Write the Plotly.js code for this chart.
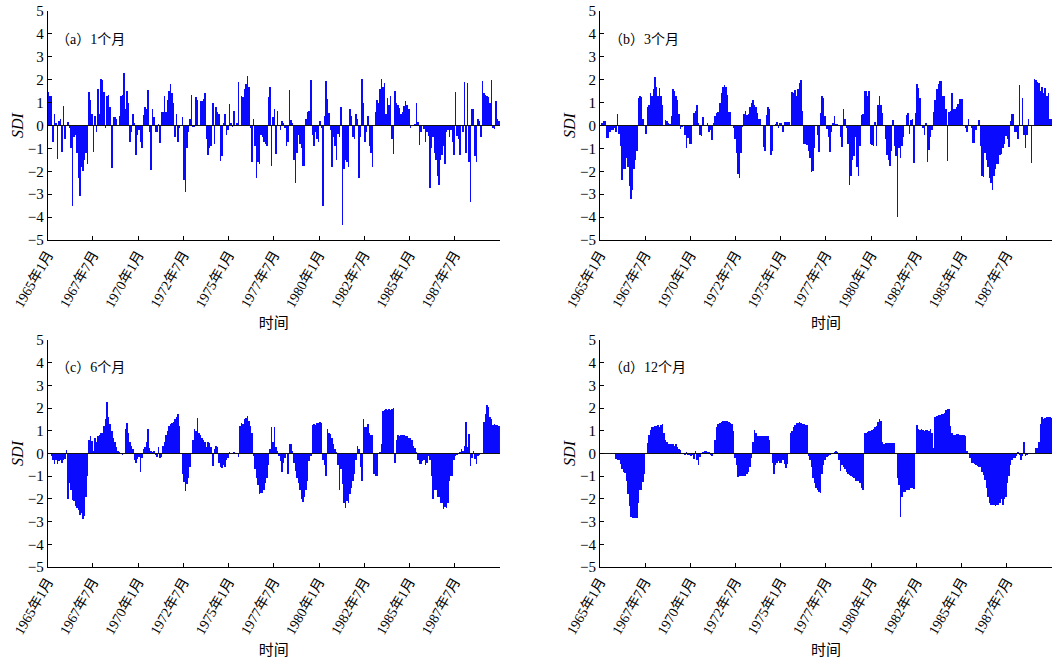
<!DOCTYPE html>
<html>
<head>
<meta charset="utf-8">
<script src="https://cdn.plot.ly/plotly-3.0.1.min.js"></script>
<style>html,body{margin:0;padding:0;background:#fff}#chart{width:1057px;height:664px}</style>
</head>
<body>
<div id="chart"></div>
<script>
// Monthly SDI, 1965-01 .. 1989-12 (one row = one year)
const tickLabels = ['1965年1月','1967年7月','1970年1月','1972年7月','1975年1月','1977年7月','1980年1月','1982年7月','1985年1月','1987年7月'];
const panelTitles = ['（a）1个月','（b）3个月','（c）6个月','（d）12个月'];
const axisTitleX = '时间';
const axisTitleY = 'SDI';

const sdi1 = [
 1.45, 1.3, 1.3, -0.7, 0.5, 0.1, -1.45, 0.2, 0.3, -1.15, 0.85, -0.6,
 0.0, 0.15, -0.1, -1.0, -3.5, -0.5, -0.4, -1.2, -2.3, -3.1, -1.8, -2.0,
 -1.5, -1.2, -1.7, 1.45, 1.1, 0.5, -1.15, 0.4, -0.3, 1.6, 0.5, 2.05,
 2.0, 1.45, -0.1, 1.3, 1.35, 0.8, -1.85, 0.35, 0.35, 0.3, 0.0, 0.4,
 1.3, 1.35, 2.3, 0.7, 1.5, 1.0, -0.7, -0.3, 0.5, 0.1, -1.3, -0.4,
 -0.2, -0.7, -1.0, 0.45, 0.8, 0.7, 1.55, -0.3, -1.95, 0.7, 0.35, -0.3,
 -0.3, 0.05, -0.75, 0.6, 0.6, 1.3, 0.6, 1.1, 1.5, 1.8, 1.4, 1.0,
 -0.5, 0.5, -0.7, -0.1, 0.0, 0.35, -2.4, -2.9, -1.0, -0.3, 0.3, 1.35,
 -0.05, -0.05, 1.25, 1.1, 0.0, 1.05, 1.05, 1.15, 1.4, -0.6, -1.3, -1.0,
 -0.9, 1.0, -0.8, 0.8, 0.6, 0.5, -1.55, -1.35, 0.1, 0.5, -0.4, -0.2,
 0.95, 0.1, -0.05, 0.65, 0.0, 0.1, 1.9, 0.0, 1.3, 1.25, 1.6, 1.8,
 2.15, 1.7, -0.1, -1.6, 0.3, -0.9, -2.3, -1.6, -1.7, -0.4, -0.5, -0.7,
 -0.8, -0.9, 1.25, 1.7, -1.75, 0.35, 0.7, -1.25, 0.65, 0.0, -0.2, 0.2,
 0.1, -0.1, -0.9, -0.7, 1.55, 0.25, 0.1, -1.5, -2.5, -1.2, -0.4, -0.8,
 -1.0, -1.75, -1.75, 0.3, 0.6, 0.65, 2.0, -0.4, -0.9, -0.3, -0.6, -0.7,
 0.2, -0.1, -3.5, 0.4, 1.95, 1.15, 0.55, -0.2, -1.8, -0.5, -0.9, -1.5,
 -0.35, -0.5, 0.8, -4.35, -1.9, -1.5, -1.6, -1.8, 0.7, 0.4, -0.5, -0.6,
 0.5, 0.3, -2.3, -0.5, 2.05, 1.0, -0.7, -0.3, 0.4, -0.9, -1.2, -1.8,
 0.0, 0.6, 1.1, 1.0, 1.6, 2.05, 1.7, 1.85, 0.5, 1.2, 0.9, 1.3,
 -0.6, -1.25, 1.5, 1.0, 0.9, 0.75, 0.5, 0.6, 0.85, 1.05, 0.9, 0.7,
 -0.1, 0.0, 0.0, 0.05, 1.0, 0.15, -0.85, -0.3, 0.0, -0.15, -0.7, -0.3,
 -0.45, -2.75, -1.0, -0.5, -1.2, -1.5, -2.2, -2.6, -1.5, -1.3, -0.9, -1.7,
 -0.3, -0.2, -0.5, -0.2, -0.7, -1.3, 1.45, -0.45, -0.6, -1.3, 0.0, -0.3,
 1.9, -1.2, 1.85, -1.6, -3.35, 0.7, 0.7, -1.35, -1.6, 0.3, 0.2, -0.5,
 1.95, 1.4, 1.35, 1.3, 1.25, 1.0, 2.0, -0.1, -0.15, 1.05, 0.3, 0.2
];

const sdi3 = [
 0.0, 0.1, 0.2, 0.2, -0.55, -0.55, -0.3, -0.2, -0.2, -0.1, -0.3, 0.5,
 -0.35, -0.9, -2.4, -1.9, -1.9, -1.4, -1.8, -2.65, -3.2, -2.8, -1.9, -1.5,
 -1.1, 1.2, 1.3, 1.25, 0.3, 0.0, -0.35, 0.8, 0.9, 1.4, 1.3, 1.6,
 2.1, 1.7, 1.3, 1.65, 1.3, 0.9, 0.0, 0.25, 0.2, 0.1, 0.05, 0.4,
 1.6, 1.5, 1.3, 1.1, 0.5, -0.15, -0.05, 0.0, -0.4, -1.0, -0.55, -0.8,
 -0.8, 0.0, 0.55, 0.65, 0.9, 0.1, -0.4, -0.45, 0.35, 0.0, 0.0, 0.1,
 -0.3, -0.2, -0.65, 0.1, 0.4, 0.55, 0.6, 1.0, 1.4, 1.7, 1.75, 1.7,
 1.35, 0.6, 0.6, 0.0, -0.1, -0.6, -1.2, -2.1, -2.3, -1.2, -0.05, 0.5,
 0.65, 0.45, 0.5, 0.8, 1.0, 1.1, 0.9, 0.8, 0.55, 0.3, 0.3, 0.0,
 -0.95, -1.1, 0.45, 0.8, 0.7, -1.3, -1.1, 0.0, 0.05, 0.15, -0.1, 0.1,
 0.1, -0.3, 0.15, 0.15, 0.15, 0.15, 0.0, 1.45, 1.4, 1.55, 1.3, 1.6,
 1.85, 2.0, 0.65, -0.8, -0.8, -0.85, -1.1, -1.4, -2.05, -2.0, -1.0, 0.0,
 -0.4, -1.15, 0.55, 1.3, 1.2, 0.4, -0.15, -0.5, -1.15, -0.3, 0.1, 0.4,
 0.05, 0.05, 0.0, -0.5, -0.95, 0.7, 0.3, -0.1, -0.8, -2.6, -2.2, -1.5,
 -1.35, -0.5, -1.8, -2.2, -0.9, 0.45, 0.5, 1.5, 1.5, 1.3, 1.5, -0.8,
 -0.85, -0.9, 0.15, -0.9, 0.9, 1.3, 0.9, 0.55, 0.0, -0.6, -1.3, -1.5,
 -1.75, -1.1, 0.25, -0.9, -1.35, -4.0, -1.0, -1.4, -0.9, -0.5, 0.0, 0.45,
 0.55, -0.35, 0.25, 0.3, -1.65, 0.55, 1.8, 1.65, 1.2, 0.0, -0.1, -0.4,
 0.1, -1.6, -1.05, -0.5, -0.2, 0.6, 1.1, 1.6, 1.8, 1.95, 1.95, 1.3,
 1.3, 0.7, -1.55, 0.6, 0.65, 1.4, 0.7, 0.7, 0.8, 0.95, 1.15, 1.15,
 1.15, 0.0, -0.1, -0.3, 0.3, 0.0, -0.1, -0.75, -0.75, -0.2, 0.0, 0.25,
 -0.9, -2.2, -2.25, -1.2, -1.5, -1.8, -2.3, -2.5, -2.8, -2.2, -1.9, -1.7,
 -1.7, -1.3, -1.25, -1.0, -0.8, -0.45, -0.6, -0.95, 0.2, 0.5, 0.5, -0.3,
 -0.3, -0.6, 1.75, 0.0, 1.2, -0.4, -1.0, -0.4, 0.3, 0.0, -1.65, 0.0,
 2.05, 2.0, 1.9, 1.85, 1.5, 1.7, 1.4, 1.65, 1.3, 1.4, 0.3, 0.3
];

const sdi6 = [
 0.0, 0.0, -0.1, -0.3, -0.45, -0.3, -0.45, -0.35, -0.3, -0.4, -0.3, -0.25,
 0.15, -2.0, -1.3, -1.6, -2.05, -2.1, -2.3, -2.4, -2.5, -2.7, -2.6, -2.9,
 -2.75, -1.9, -1.0, 0.6, 0.75, 0.55, 0.1, 0.7, 0.5, 0.75, 0.8, 0.9,
 0.9, 1.2, 1.5, 2.25, 1.6, 1.3, 1.0, 0.7, 0.5, 0.3, 0.1, 0.05,
 0.0, -0.05, 0.0, 1.1, 1.35, 0.9, 0.5, 0.35, 0.2, -0.3, -0.4, -0.25,
 -0.15, -0.8, -0.2, 0.2, 0.3, 0.5, 1.1, 0.25, 0.1, 0.05, 0.1, -0.05,
 -0.15, 0.3, -0.2, -0.15, 0.35, 0.5, 0.8, 1.0, 1.2, 1.3, 1.35, 1.4,
 1.5, 1.6, 1.75, 1.2, 0.0, -0.9, -1.25, -1.65, -1.35, -1.1, -0.6, 0.0,
 0.6, 1.1, 1.0, 1.55, 0.9, 0.8, 0.7, 0.6, 0.5, 0.3, 0.5, 0.45,
 0.3, -0.55, 0.2, 0.35, 0.3, -0.4, -0.6, -0.65, -0.5, -0.6, -0.3, -0.2,
 0.05, 0.0, 0.0, 0.05, 0.0, 0.0, -0.15, 1.2, 1.35, 1.3, 1.5, 1.55,
 1.65, 1.45, 1.2, 0.9, -0.1, -0.7, -1.1, -1.4, -1.8, -1.75, -1.75, -1.6,
 -1.3, -1.1, -0.5, 0.2, 1.15, 0.5, 1.15, 0.3, 0.1, -0.1, -0.35, -0.8,
 -0.4, -0.2, 0.0, -0.9, 0.4, 0.4, 0.1, -0.4, -0.75, -1.1, -1.3, -1.6,
 -2.0, -2.15, -1.9, -1.6, -1.2, -0.35, -0.1, 1.25, 1.3, 1.25, 1.35, 1.35,
 1.4, 1.35, -0.3, -0.5, -1.0, 1.1, 0.9, 0.85, 0.7, 0.4, 0.2, 0.05,
 -0.5, -1.6, -0.7, -1.35, -2.2, -2.4, -2.1, -2.2, -1.8, -1.5, -1.2, -0.9,
 -0.3, 0.35, 0.2, -0.6, -1.2, 1.5, 1.15, 1.15, 1.3, 0.9, 0.8, 0.8,
 -0.9, -1.0, -1.0, 0.0, 0.05, 0.4, 1.85, 1.9, 1.95, 1.9, 1.95, 1.9,
 1.95, 2.0, -0.4, 0.6, 0.8, 0.75, 0.8, 0.8, 0.8, 0.75, 0.75, 0.7,
 0.7, 0.6, 0.35, 0.25, 0.05, -0.3, -0.45, -0.45, -0.35, -0.3, -0.5, -0.4,
 -0.1, -0.3, -1.0, -2.0, -1.6, -1.6, -1.9, -1.9, -2.2, -2.2, -2.45, -2.35,
 -2.4, -2.2, -1.2, -1.0, -1.0, -0.3, -0.1, -0.05, 0.0, 0.05, 0.2, 0.1,
 0.35, 1.4, 0.3, 0.85, -0.55, -0.2, 0.1, -0.25, -0.45, -0.1, -0.05, 0.0,
 0.0, 1.4, 1.75, 2.15, 2.05, 1.6, 1.5, 1.25, 1.3, 1.25, 1.25, 1.2
];

const sdi12 = [
 0.0, 0.0, 0.0, 0.0, 0.0, 0.0, 0.0, 0.0, 0.0, 0.0, -0.25, -0.3,
 -0.3, -0.45, -0.7, -0.8, -0.85, -1.2, -1.8, -2.3, -2.8, -2.85, -2.85, -2.85,
 -2.85, -2.2, -1.6, -1.6, -1.25, -0.9, 0.0, 0.45, 0.8, 1.05, 1.15, 1.15,
 1.2, 1.2, 1.25, 1.15, 1.25, 1.3, 0.9, 0.6, 0.5, 0.4, 0.4, 0.4,
 0.4, 0.35, 0.4, 0.3, 0.2, 0.15, 0.0, 0.0, -0.05, 0.05, -0.05, -0.05,
 -0.1, -0.05, -0.25, 0.1, -0.3, -0.5, -0.15, 0.0, 0.05, 0.1, 0.1, 0.05,
 0.05, -0.05, -0.1, 0.0, 0.6, 1.15, 1.3, 1.35, 1.4, 1.45, 1.45, 1.45,
 1.45, 1.4, 1.35, 1.3, 1.0, -0.2, -0.5, -1.05, -1.0, -1.0, -1.0, -1.0,
 -1.0, -0.9, -0.8, -0.6, -0.2, 0.5, 1.05, 0.9, 0.75, 0.75, 0.75, 0.75,
 0.75, 0.75, 0.75, 0.75, 0.6, 0.0, -0.4, -0.9, -0.5, -0.4, -0.35, -0.4,
 -0.4, -0.3, -0.45, -0.65, -0.45, 0.0, 0.9, 1.0, 1.15, 1.25, 1.35, 1.35,
 1.4, 1.35, 1.3, 1.3, 1.25, 1.25, -0.1, -0.3, -0.6, -1.1, -1.3, -1.5,
 -1.6, -1.7, -1.75, -0.9, -0.5, -0.3, -0.15, -0.1, -0.05, 0.0, 0.0, 0.05,
 0.1, 0.05, -0.3, -0.75, -0.5, -0.6, -0.7, -0.8, -0.9, -0.95, -1.0, -1.05,
 -1.1, -1.2, -1.2, -1.2, -1.3, -1.5, -1.6, 0.9, 0.9, 0.95, 1.0, 1.0,
 1.05, 1.1, 1.15, 1.2, 1.4, 1.5, 1.45, 0.5, 0.4, 0.45, 0.45, 0.45,
 0.45, 0.45, 0.45, 0.45, 0.0, -1.1, -1.4, -2.8, -1.9, -1.7, -1.7, -1.6,
 -1.6, -1.6, -1.5, -1.5, -1.55, 0.0, 1.25, 1.1, 1.05, 1.1, 1.05, 1.0,
 1.05, 1.05, 1.0, 1.1, 0.9, 0.25, 1.6, 1.65, 1.7, 1.7, 1.75, 1.75,
 1.8, 1.9, 1.95, 1.95, 1.2, 0.9, 0.8, 0.8, 0.85, 0.85, 0.8, 0.8,
 0.8, 0.8, 0.75, 0.1, 0.0, -0.2, -0.4, -0.4, -0.45, -0.5, -0.55, -0.6,
 -0.6, -0.8, -0.95, -1.15, -1.5, -1.9, -2.2, -2.25, -2.25, -2.25, -2.3, -2.25,
 -2.25, -2.2, -2.0, -2.25, -2.0, -1.9, -1.3, -1.0, -0.5, -0.3, -0.2, -0.2,
 -0.1, 0.05, -0.05, -0.3, -0.1, 0.5, -0.1, -0.05, 0.0, 0.0, 0.0, 0.0,
 0.0, 0.25, 0.25, 0.5, 1.3, 1.6, 1.5, 1.55, 1.6, 1.6, 1.6, 1.55
];

const series = [sdi1, sdi3, sdi6, sdi12];
const TICK_STEP = 30; // months between labelled ticks
const nMonths = sdi1.length;

const serif = '"Liberation Serif", "Times New Roman", "Noto Sans CJK SC", serif';
const cjk = '"Liberation Serif", "Noto Sans CJK SC", sans-serif';

const tickvals = tickLabels.map((_, k) => k * TICK_STEP).concat([nMonths]);
const ticktext = tickLabels.concat(['']);

const xDomains = [[0.0451, 0.4730], [0.5676, 0.9953], [0.0451, 0.4730], [0.5676, 0.9953]];
const yDomains = [[0.6386, 0.9834], [0.6386, 0.9834], [0.1461, 0.4880], [0.1461, 0.4880]];

const data = [];
const layout = {
  width: 1057, height: 664,
  margin: {l: 0, r: 0, t: 0, b: 0},
  paper_bgcolor: '#fff', plot_bgcolor: '#fff',
  showlegend: false, bargap: 0,
  annotations: []
};

series.forEach((vals, p) => {
  const sfx = p === 0 ? '' : String(p + 1);
  data.push({
    type: 'bar',
    x: vals.map((_, i) => i + 0.5),
    y: vals,
    xaxis: 'x' + sfx, yaxis: 'y' + sfx,
    marker: {color: 'rgb(10,10,255)', line: {width: 0}},
    width: 1,
    hoverinfo: 'y'
  });
  layout['xaxis' + sfx] = {
    domain: xDomains[p], anchor: 'y' + sfx,
    range: [0, nMonths], tickmode: 'array', tickvals, ticktext,
    tickangle: -60, ticks: 'inside', ticklen: 4, tickcolor: '#000', tickwidth: 1,
    showline: true, linecolor: '#000', linewidth: 1, mirror: false,
    showgrid: false, zeroline: false,
    tickfont: {family: cjk, size: 14, color: '#000'},
    title: {text: axisTitleX, font: {family: cjk, size: 15, color: '#000'}, standoff: 8},
    layer: 'above traces', automargin: false
  };
  layout['yaxis' + sfx] = {
    domain: yDomains[p], anchor: 'x' + sfx,
    range: [-5, 5], tickmode: 'linear', tick0: -5, dtick: 1,
    ticks: 'inside', ticklen: 4, tickcolor: '#000', tickwidth: 1,
    showline: true, linecolor: '#000', linewidth: 1,
    showgrid: false, zeroline: true, zerolinecolor: '#111', zerolinewidth: 1,
    zerolinelayer: 'above traces',
    tickfont: {family: serif, size: 15, color: '#000'},
    title: {text: axisTitleY, font: {family: serif, size: 16, color: '#000', style: 'italic'}, standoff: 0},
    layer: 'above traces', automargin: false
  };
  layout.annotations.push({
    xref: 'x' + sfx + ' domain', yref: 'y' + sfx + ' domain',
    x: 0.015, y: 0.877, xanchor: 'left', yanchor: 'middle',
    text: panelTitles[p], showarrow: false,
    font: {family: cjk, size: 14, color: '#000'}
  });
});

Plotly.newPlot('chart', data, layout, {staticPlot: true, displayModeBar: false});
</script>
</body>
</html>
